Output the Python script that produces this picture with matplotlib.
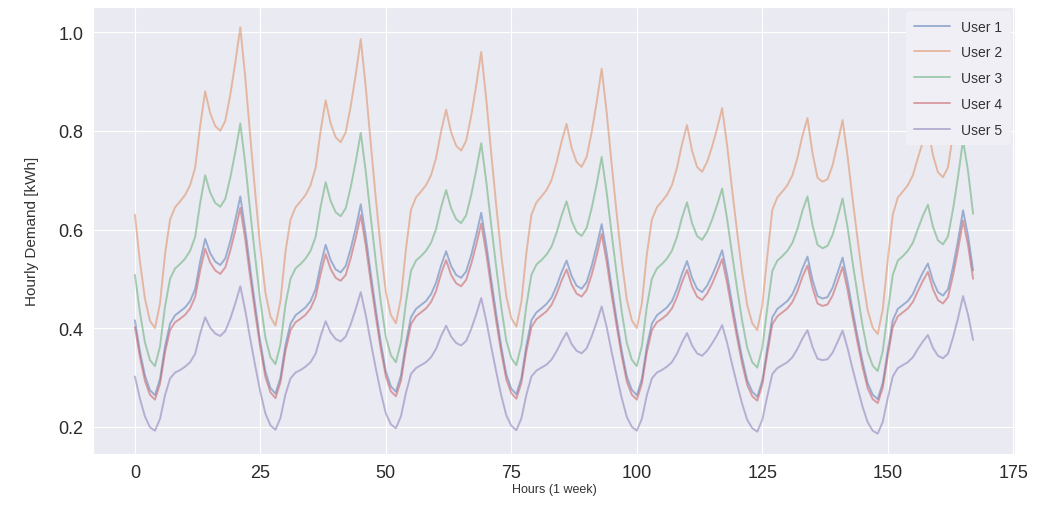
import numpy as np
import matplotlib
matplotlib.use('Agg')
import matplotlib.pyplot as plt
import seaborn as sns

hours = np.arange(168)

## hourly demand, one row per day
user1 = [
    0.416, 0.353, 0.304, 0.274, 0.264, 0.297, 0.363, 0.409, 0.426, 0.434, 0.442, 0.455, 0.479, 0.535, 0.581, 0.552, 0.535, 0.528, 0.541, 0.576, 0.619, 0.667, 0.599, 0.519,
    0.443, 0.371, 0.312, 0.279, 0.267, 0.300, 0.366, 0.409, 0.426, 0.434, 0.442, 0.455, 0.479, 0.528, 0.569, 0.538, 0.519, 0.513, 0.526, 0.561, 0.603, 0.651, 0.586, 0.510,
    0.438, 0.370, 0.312, 0.282, 0.271, 0.304, 0.370, 0.422, 0.439, 0.447, 0.455, 0.469, 0.492, 0.527, 0.556, 0.526, 0.508, 0.502, 0.515, 0.548, 0.589, 0.634, 0.571, 0.498,
    0.428, 0.362, 0.306, 0.277, 0.266, 0.299, 0.365, 0.416, 0.432, 0.440, 0.449, 0.462, 0.485, 0.513, 0.537, 0.506, 0.486, 0.480, 0.493, 0.526, 0.566, 0.611, 0.552, 0.482,
    0.416, 0.354, 0.302, 0.275, 0.264, 0.297, 0.363, 0.409, 0.426, 0.434, 0.442, 0.455, 0.479, 0.510, 0.536, 0.502, 0.480, 0.473, 0.486, 0.507, 0.531, 0.558, 0.508, 0.449,
    0.392, 0.339, 0.294, 0.271, 0.261, 0.294, 0.360, 0.422, 0.439, 0.447, 0.455, 0.469, 0.492, 0.521, 0.545, 0.498, 0.465, 0.460, 0.463, 0.482, 0.512, 0.543, 0.494, 0.436,
    0.382, 0.331, 0.288, 0.265, 0.256, 0.289, 0.355, 0.416, 0.439, 0.447, 0.455, 0.469, 0.492, 0.513, 0.531, 0.496, 0.473, 0.466, 0.479, 0.524, 0.578, 0.639, 0.587, 0.517,
]
user2 = [
    0.630, 0.535, 0.460, 0.415, 0.400, 0.450, 0.550, 0.620, 0.645, 0.657, 0.670, 0.690, 0.725, 0.810, 0.880, 0.836, 0.810, 0.800, 0.820, 0.873, 0.938, 1.010, 0.907, 0.786,
    0.671, 0.562, 0.472, 0.423, 0.405, 0.455, 0.555, 0.620, 0.645, 0.657, 0.670, 0.690, 0.725, 0.800, 0.862, 0.815, 0.787, 0.777, 0.797, 0.850, 0.914, 0.986, 0.888, 0.773,
    0.663, 0.560, 0.473, 0.427, 0.410, 0.460, 0.560, 0.640, 0.665, 0.677, 0.690, 0.710, 0.745, 0.799, 0.843, 0.797, 0.770, 0.760, 0.780, 0.830, 0.892, 0.960, 0.865, 0.754,
    0.648, 0.548, 0.464, 0.420, 0.403, 0.453, 0.553, 0.630, 0.655, 0.667, 0.680, 0.700, 0.735, 0.778, 0.814, 0.766, 0.737, 0.727, 0.747, 0.797, 0.858, 0.926, 0.837, 0.731,
    0.631, 0.537, 0.458, 0.416, 0.400, 0.450, 0.550, 0.620, 0.645, 0.657, 0.670, 0.690, 0.725, 0.773, 0.812, 0.760, 0.727, 0.717, 0.737, 0.768, 0.805, 0.846, 0.770, 0.680,
    0.594, 0.513, 0.446, 0.410, 0.396, 0.446, 0.546, 0.640, 0.665, 0.677, 0.690, 0.710, 0.745, 0.790, 0.826, 0.755, 0.705, 0.697, 0.702, 0.730, 0.775, 0.822, 0.748, 0.661,
    0.579, 0.501, 0.436, 0.401, 0.388, 0.438, 0.538, 0.630, 0.665, 0.677, 0.690, 0.710, 0.745, 0.778, 0.805, 0.751, 0.716, 0.706, 0.726, 0.794, 0.876, 0.968, 0.890, 0.783,
]
user3 = [
    0.508, 0.432, 0.371, 0.335, 0.323, 0.363, 0.444, 0.500, 0.521, 0.530, 0.541, 0.557, 0.585, 0.654, 0.710, 0.675, 0.654, 0.646, 0.662, 0.705, 0.757, 0.815, 0.732, 0.634,
    0.541, 0.454, 0.381, 0.341, 0.327, 0.367, 0.448, 0.500, 0.521, 0.530, 0.541, 0.557, 0.585, 0.646, 0.696, 0.658, 0.635, 0.627, 0.643, 0.686, 0.738, 0.796, 0.717, 0.624,
    0.535, 0.452, 0.382, 0.345, 0.331, 0.371, 0.452, 0.516, 0.537, 0.546, 0.557, 0.573, 0.601, 0.645, 0.680, 0.643, 0.621, 0.613, 0.629, 0.670, 0.720, 0.775, 0.698, 0.608,
    0.523, 0.442, 0.374, 0.339, 0.325, 0.366, 0.446, 0.508, 0.529, 0.538, 0.549, 0.565, 0.593, 0.628, 0.657, 0.618, 0.595, 0.587, 0.603, 0.643, 0.692, 0.747, 0.675, 0.590,
    0.509, 0.433, 0.370, 0.336, 0.323, 0.363, 0.444, 0.500, 0.521, 0.530, 0.541, 0.557, 0.585, 0.624, 0.655, 0.613, 0.587, 0.579, 0.595, 0.620, 0.650, 0.683, 0.621, 0.549,
    0.479, 0.414, 0.360, 0.331, 0.320, 0.360, 0.441, 0.516, 0.537, 0.546, 0.557, 0.573, 0.601, 0.638, 0.667, 0.609, 0.569, 0.562, 0.567, 0.589, 0.625, 0.663, 0.604, 0.533,
    0.467, 0.404, 0.352, 0.324, 0.313, 0.353, 0.434, 0.508, 0.537, 0.546, 0.557, 0.573, 0.601, 0.628, 0.650, 0.606, 0.578, 0.570, 0.586, 0.641, 0.707, 0.781, 0.718, 0.632,
]
user4 = [
    0.402, 0.341, 0.293, 0.265, 0.255, 0.287, 0.351, 0.396, 0.412, 0.419, 0.427, 0.440, 0.463, 0.517, 0.561, 0.533, 0.517, 0.510, 0.523, 0.557, 0.598, 0.644, 0.579, 0.501,
    0.428, 0.359, 0.301, 0.270, 0.258, 0.290, 0.354, 0.396, 0.412, 0.419, 0.427, 0.440, 0.463, 0.510, 0.550, 0.520, 0.502, 0.496, 0.508, 0.542, 0.583, 0.629, 0.567, 0.493,
    0.423, 0.357, 0.302, 0.272, 0.262, 0.293, 0.357, 0.408, 0.424, 0.432, 0.440, 0.453, 0.475, 0.510, 0.538, 0.508, 0.491, 0.485, 0.498, 0.530, 0.569, 0.612, 0.552, 0.481,
    0.413, 0.350, 0.296, 0.268, 0.257, 0.289, 0.353, 0.402, 0.418, 0.426, 0.434, 0.447, 0.469, 0.496, 0.519, 0.489, 0.470, 0.464, 0.477, 0.508, 0.547, 0.591, 0.534, 0.466,
    0.403, 0.343, 0.292, 0.265, 0.255, 0.287, 0.351, 0.396, 0.412, 0.419, 0.427, 0.440, 0.463, 0.493, 0.518, 0.485, 0.464, 0.457, 0.470, 0.490, 0.514, 0.540, 0.491, 0.434,
    0.379, 0.327, 0.285, 0.262, 0.253, 0.285, 0.348, 0.408, 0.424, 0.432, 0.440, 0.453, 0.475, 0.504, 0.527, 0.482, 0.450, 0.445, 0.448, 0.466, 0.494, 0.524, 0.477, 0.422,
    0.369, 0.320, 0.278, 0.256, 0.248, 0.279, 0.343, 0.402, 0.424, 0.432, 0.440, 0.453, 0.475, 0.496, 0.514, 0.479, 0.457, 0.450, 0.463, 0.507, 0.559, 0.618, 0.568, 0.500,
]
user5 = [
    0.302, 0.257, 0.221, 0.199, 0.192, 0.216, 0.264, 0.298, 0.310, 0.315, 0.322, 0.331, 0.348, 0.389, 0.422, 0.401, 0.389, 0.384, 0.394, 0.419, 0.450, 0.485, 0.435, 0.377,
    0.322, 0.270, 0.227, 0.203, 0.194, 0.218, 0.266, 0.298, 0.310, 0.315, 0.322, 0.331, 0.348, 0.384, 0.414, 0.391, 0.378, 0.373, 0.383, 0.408, 0.439, 0.473, 0.426, 0.371,
    0.318, 0.269, 0.227, 0.205, 0.197, 0.221, 0.269, 0.307, 0.319, 0.325, 0.331, 0.341, 0.358, 0.384, 0.405, 0.383, 0.370, 0.365, 0.374, 0.398, 0.428, 0.461, 0.415, 0.362,
    0.311, 0.263, 0.223, 0.202, 0.193, 0.217, 0.265, 0.302, 0.314, 0.320, 0.326, 0.336, 0.353, 0.373, 0.391, 0.368, 0.354, 0.349, 0.359, 0.383, 0.412, 0.444, 0.402, 0.351,
    0.303, 0.258, 0.220, 0.200, 0.192, 0.216, 0.264, 0.298, 0.310, 0.315, 0.322, 0.331, 0.348, 0.371, 0.390, 0.365, 0.349, 0.344, 0.354, 0.369, 0.386, 0.406, 0.370, 0.326,
    0.285, 0.246, 0.214, 0.197, 0.190, 0.214, 0.262, 0.307, 0.319, 0.325, 0.331, 0.341, 0.358, 0.379, 0.396, 0.362, 0.338, 0.335, 0.337, 0.350, 0.372, 0.395, 0.359, 0.317,
    0.278, 0.240, 0.209, 0.192, 0.186, 0.210, 0.258, 0.302, 0.319, 0.325, 0.331, 0.341, 0.358, 0.373, 0.386, 0.360, 0.344, 0.339, 0.348, 0.381, 0.420, 0.465, 0.427, 0.376,
]

users = [user1, user2, user3, user4, user5]
labels = ['User 1', 'User 2', 'User 3', 'User 4', 'User 5']
colors = ['#4C72B0', '#DD8452', '#55A868', '#C44E52', '#8172B3']

sns.set_style('darkgrid')
plt.rcParams['font.family'] = ['Liberation Sans', 'DejaVu Sans']

fig = plt.figure(figsize=(10.42, 5.06), dpi=100)
ax = fig.add_axes([93 / 1042, 51 / 506, 922 / 1042, 447 / 506])

for vals, lab, col in zip(users, labels, colors):
    ax.plot(hours, vals, color=col, alpha=0.5, linewidth=1.4, label=lab)

ax.set_xticks([0, 25, 50, 75, 100, 125, 150, 175])
ax.set_yticks([0.2, 0.4, 0.6, 0.8, 1.0])
ax.tick_params(axis='both', labelsize=13, colors='#2a2a2a')
ax.set_xlabel('Hours (1 week)', fontsize=9, labelpad=2, color='#333333')
ax.set_ylabel('Hourly Demand [kWh]', fontsize=11, labelpad=14, color='#333333')

leg = ax.legend(loc='upper right', fontsize=10, labelspacing=0.85, handlelength=2.6,
                borderpad=0.6, facecolor='#EFEFF5', framealpha=1.0, edgecolor='none',
                borderaxespad=0.3)
for t in leg.get_texts():
    t.set_color('#333333')

plt.savefig('out.png', dpi=100)
